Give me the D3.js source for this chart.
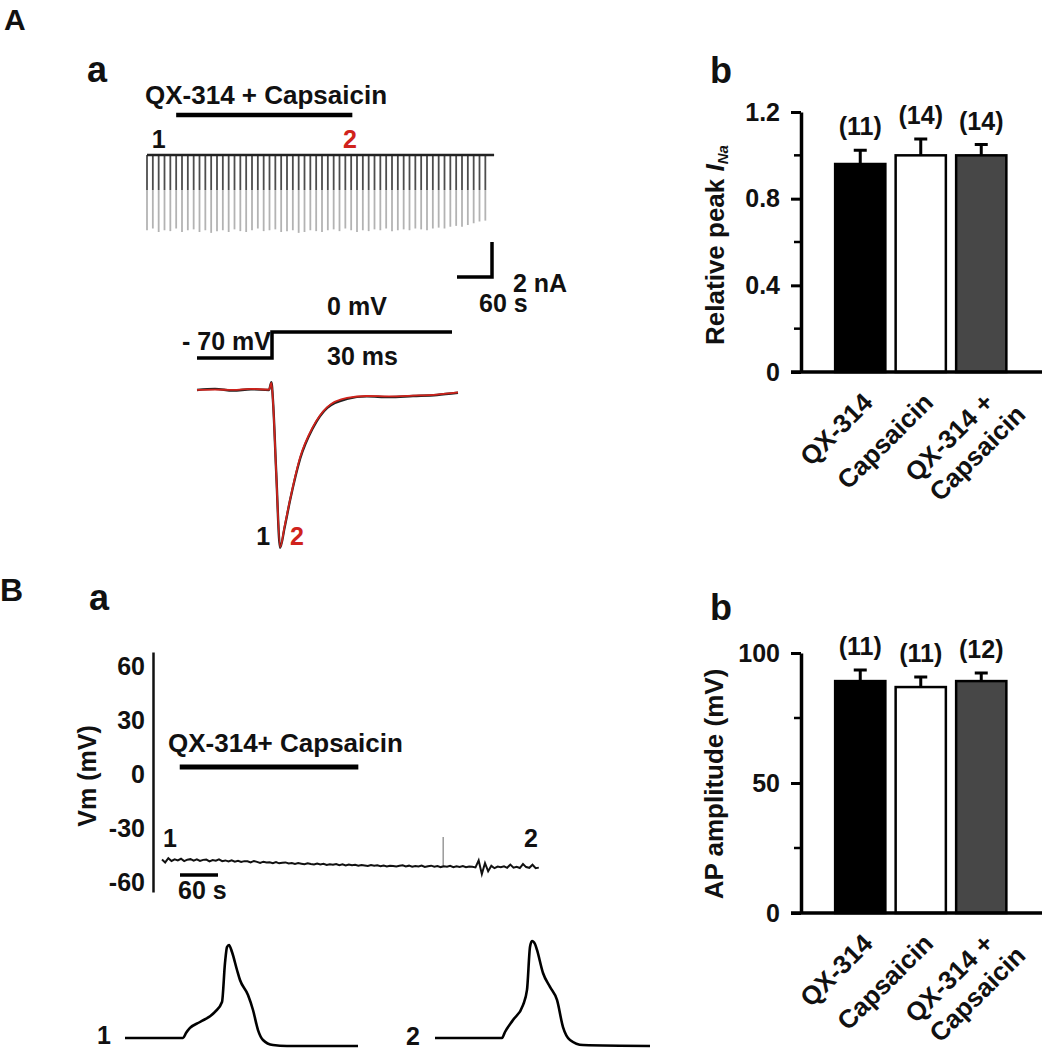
<!DOCTYPE html>
<html><head><meta charset="utf-8">
<script src="https://cdn.jsdelivr.net/npm/d3@7"></script>
<style>
body{margin:0;background:#fff}
svg text{font-family:"Liberation Sans",Arial,sans-serif;font-weight:bold}
</style></head><body>
<svg id="fig" width="1042" height="1050"></svg>
<script>
// ================= DATA =================
// Panel A-a : repeated Na-current sweeps (time s, peak nA)
const sweepTime = [0,10,20,30,40,50,60,70,80,90,100,110,120,130,140,150,160,170,180,190,200,210,220,230,240,250,260,270,280,290,300,310,320,330,340,350,360,370,380,390,400,410,420,430,440,450,460,470,480,490,500,510,520,530,540,550,560,570,580];
const sweepPeak = [-4.3,-4.2,-4.4,-4.3,-4.35,-4.2,-4.4,-4.3,-4.25,-4.4,
  -4.3,-4.45,-4.35,-4.3,-4.4,-4.25,-4.35,-4.4,-4.3,-4.2,
  -4.35,-4.3,-4.25,-4.4,-4.35,-4.3,-4.45,-4.4,-4.3,-4.35,
  -4.4,-4.3,-4.25,-4.35,-4.2,-4.3,-4.4,-4.3,-4.35,-4.25,
  -4.3,-4.2,-4.35,-4.3,-4.25,-4.3,-4.2,-4.25,-4.3,-4.2,
  -4.15,-4.2,-4.1,-4.05,-4.1,-4.0,-3.9,-3.8,-3.75];
const sweepMarks = [{label:"1", t:20, color:"#111"}, {label:"2", t:348, color:"#d0231c"}];
const drugA = [50, 352];           // s
const drugLabelA = "QX-314 + Capsaicin";

// voltage protocol (ms, mV)
const protoT = [0, 12.5, 12.5, 42.5];
const protoV = [-70, -70, 0, 0];

// Na current traces (ms, nA)
const inaT  = [0,3,6,9,12,12.4,12.7,13.2,13.85,14.6,15.5,17.2,19.3,21.7,25,28.3,32,36,40,43.5];
const ina1  = [0.0,0.03,-0.02,0.02,0.0,0.22,-0.4,-2.3,-4.42,-3.85,-3.1,-1.92,-1.07,-0.5,-0.25,-0.18,-0.2,-0.17,-0.14,-0.08];
const ina2  = [0.0,0.01,0.0,0.03,0.01,0.2,-0.42,-2.32,-4.4,-3.82,-3.08,-1.88,-1.04,-0.48,-0.22,-0.17,-0.18,-0.16,-0.13,-0.07];

// Panel B-a : membrane potential (s, mV)
const vmTime = [0,5,10,15,20,25,30,35,40,45,50,55,60,65,70,75,80,85,90,95,
  100,105,110,115,120,125,130,135,140,145,150,155,160,165,170,175,180,185,190,195,
  200,205,210,215,220,225,230,235,240,245,250,255,260,265,270,275,280,285,290,295,
  300,305,310,315,320,325,330,335,340,345,350,355,360,365,370,375,380,385,390,395,
  400,405,410,415,420,425,430,435,440,445,450,455,460,465,470,475,480,485,490,495,
  500,505,510,515,520,525,530,535,540,545,550,555,560,565,570,575,580,585,590,595];
const vmValue = [-47.0,-48.6,-46.3,-47.8,-46.9,-47.5,-46.6,-47.9,-47.1,-46.8,
  -47.6,-46.9,-47.8,-47.2,-47.0,-48.0,-47.3,-47.7,-46.9,-47.9,
  -47.5,-48.1,-47.4,-48.2,-47.7,-48.4,-47.9,-48.0,-48.6,-47.8,
  -48.3,-48.9,-48.2,-48.7,-48.5,-49.0,-48.4,-49.1,-48.8,-48.6,
  -49.2,-48.9,-49.4,-49.0,-49.3,-49.6,-49.1,-49.5,-49.8,-49.2,
  -49.7,-49.4,-50.0,-49.6,-49.9,-49.5,-50.1,-49.7,-50.3,-49.8,
  -50.2,-49.9,-50.4,-50.0,-50.3,-50.6,-50.1,-50.5,-50.2,-50.7,
  -50.3,-50.8,-50.4,-50.6,-50.9,-50.5,-50.2,-50.8,-50.4,-51.0,
  -50.6,-50.9,-50.3,-51.1,-50.7,-50.4,-51.0,-50.6,-51.2,-50.8,
  -51.0,-50.5,-51.2,-50.7,-51.1,-50.6,-51.3,-50.9,-51.0,-51.4,
  -47.5,-55.0,-49.0,-53.5,-50.5,-51.8,-50.9,-51.3,-50.8,-51.6,
  -49.8,-51.5,-51.0,-51.7,-49.5,-51.2,-51.6,-49.9,-51.8,-51.5];
const vmSpikeT = [444];
const vmSpikeV = [-34.5];
const vmTicks = [-60, -30, 0, 30, 60];
const drugB = [28, 310];
const drugLabelB = "QX-314+ Capsaicin";

// Action potentials (ms, mV)
const ap1T = [0,29,30.5,32.5,37.5,45,48.5,50,51,52,53.5,56,57.5,61.5,64,66.5,69,74,81,116.5];
const ap1V = [-50,-50,-45.2,-40.3,-34.5,-24.8,-15.2,22.6,38,40,33.2,15.8,6.1,-8.4,-22.9,-42.3,-51.9,-56.8,-57.7,-57.7];
const ap2T = [0,33.5,35,39,44,46,47.5,48.5,50,51,54,57.5,61,64,67.5,74,107.5];
const ap2V = [-50,-50,-44.2,-32.6,-18.1,-3.5,38.1,43.9,41,35.2,12.9,-0.6,-13.2,-39.4,-51.9,-56.8,-57.7];

// Bar charts
const barCategories = ["QX-314", "Capsaicin", "QX-314 +\nCapsaicin"];
const barFill = ["#000000", "#ffffff", "#474747"];
const peakINa = [0.96, 1.00, 1.00];
const peakINaSEM = [0.063, 0.075, 0.05];
const peakINaN = ["(11)", "(14)", "(14)"];
const peakTicks = [0, 0.4, 0.8, 1.2];
const peakMinor = [0.2, 0.6, 1.0];
const apAmp = [89.2, 86.9, 89.2];
const apAmpSEM = [4.3, 3.9, 3.1];
const apAmpN = ["(11)", "(11)", "(12)"];
const apTicks = [0, 50, 100];
const apMinor = [25, 75];

// ================= DRAW =================
const svg = d3.select("#fig");
const RED = "#d0231c";

function txt(x, y, s, size, anchor, color){
  return svg.append("text").attr("x", x).attr("y", y).attr("font-size", size)
    .attr("text-anchor", anchor || "start").attr("fill", color || "#111").text(s);
}

// panel letters
txt(4, 30, "A", 30);
txt(87, 82, "a", 36);
txt(710, 83, "b", 36);
txt(0, 601, "B", 32);
txt(89, 610, "a", 36);
txt(710, 620, "b", 36);

// ---------- A-a sweeps ----------
const xA = d3.scaleLinear().domain([0, 600]).range([147, 497]);
const yA = d3.scaleLinear().domain([-4.5, 0]).range([233.75, 155]);
const defs = svg.append("defs");
const grad = defs.append("linearGradient").attr("id", "sweepGrad")
  .attr("gradientUnits", "userSpaceOnUse")
  .attr("x1", 0).attr("x2", 0).attr("y1", yA(0)).attr("y2", yA(-4.4));
[[0,"#4d4d4d"],[0.46,"#4d4d4d"],[0.46,"#b3b3b3"],[1,"#b3b3b3"]].forEach(s =>
  grad.append("stop").attr("offset", s[0]).attr("stop-color", s[1]));

svg.append("g").selectAll("line").data(sweepTime).join("line")
  .attr("x1", d => xA(d)).attr("x2", d => xA(d))
  .attr("y1", yA(0)).attr("y2", (d, i) => yA(sweepPeak[i]))
  .attr("stroke", "url(#sweepGrad)").attr("stroke-width", 1.8);
svg.append("line").attr("x1", xA(0)).attr("x2", xA(595)).attr("y1", yA(0)).attr("y2", yA(0))
  .attr("stroke", "#222").attr("stroke-width", 2.4);
sweepMarks.forEach(m => txt(xA(m.t), 148, m.label, 25, "middle", m.color));
svg.append("line").attr("x1", xA(drugA[0])).attr("x2", xA(drugA[1])).attr("y1", 115).attr("y2", 115)
  .attr("stroke", "#000").attr("stroke-width", 4.5);
txt(145, 104, drugLabelA, 26);

// scale bar (60 s horizontal, 2 nA vertical)
const sbX = 492, sbY = 277;
const sbW = Math.abs(xA(60) - xA(0)), sbH = Math.abs(yA(-2) - yA(0));
svg.append("path")
  .attr("d", `M${sbX - sbW},${sbY}H${sbX}V${sbY - sbH}`)
  .attr("fill", "none").attr("stroke", "#000").attr("stroke-width", 3.5);
txt(513, 292, "2 nA", 25);
txt(479, 312, "60 s", 25);

// protocol
const xP = d3.scaleLinear().domain([0, 45]).range([197, 467]);
const vP = d3.scaleLinear().domain([-70, 0]).range([358, 332]);
svg.append("path").attr("d", d3.line().x((d, i) => xP(protoT[i])).y(d => vP(d))(protoV))
  .attr("fill", "none").attr("stroke", "#000").attr("stroke-width", 3.5);
txt(357, 315, "0 mV", 25, "middle");
txt(271, 350, "- 70 mV", 25, "end");
txt(327, 365, "30 ms", 25);

// Na current
const yI = d3.scaleLinear().domain([-4.5, 0.5]).range([550.6, 372.1]);
const lineI = arr => d3.line().x((d, i) => xP(inaT[i])).y(d => yI(d)).curve(d3.curveMonotoneX)(arr);
svg.append("path").attr("d", lineI(ina1)).attr("fill", "none").attr("stroke", "#222").attr("stroke-width", 2.4);
svg.append("path").attr("d", lineI(ina2)).attr("fill", "none").attr("stroke", RED).attr("stroke-width", 1.8);
txt(xP(13.85) - 10, 545, "1", 25, "end", "#111");
txt(xP(13.85) + 10, 545, "2", 25, "start", RED);

// ---------- B-a ----------
const xV = d3.scaleLinear().domain([0, 600]).range([162, 542]);
const yV = d3.scaleLinear().domain([-65, 68]).range([892, 652]);
const vAxis = svg.append("g").attr("transform", "translate(153,0)")
  .call(d3.axisLeft(yV).tickValues(vmTicks).tickSize(0).tickSizeOuter(0).tickPadding(8).tickFormat(d => String(d)));
vAxis.attr("font-size", 25).attr("font-family", null);
vAxis.selectAll("text").attr("fill", "#111");
vAxis.select(".domain").attr("stroke", "#111").attr("stroke-width", 2.5);
svg.append("text").attr("transform", "translate(96,776) rotate(-90)").attr("font-size", 25)
  .attr("text-anchor", "middle").attr("fill", "#111").text("Vm (mV)");
svg.append("line").attr("x1", xV(drugB[0])).attr("x2", xV(drugB[1])).attr("y1", 767).attr("y2", 767)
  .attr("stroke", "#000").attr("stroke-width", 5);
txt(168, 752, drugLabelB, 26);
svg.append("g").selectAll("line").data(vmSpikeT).join("line")
  .attr("x1", d => xV(d)).attr("x2", d => xV(d))
  .attr("y1", yV(-51)).attr("y2", (d, i) => yV(vmSpikeV[i]))
  .attr("stroke", "#999").attr("stroke-width", 1.5);
svg.append("path").attr("d", d3.line().x((d, i) => xV(vmTime[i])).y(d => yV(d))(vmValue))
  .attr("fill", "none").attr("stroke", "#111").attr("stroke-width", 2);
txt(163, 847, "1", 25);
txt(538, 847, "2", 25, "end");
svg.append("line").attr("x1", 180).attr("x2", 180 + Math.abs(xV(60) - xV(0))).attr("y1", 875).attr("y2", 875)
  .attr("stroke", "#000").attr("stroke-width", 3.5);
txt(178, 899, "60 s", 25);

// action potentials
const yAP = d3.scaleLinear().domain([-50, 40]).range([1038, 945]);
const xAP1 = d3.scaleLinear().domain([0, 120]).range([125, 365]);
const xAP2 = d3.scaleLinear().domain([0, 120]).range([435, 675]);
svg.append("path").attr("d", d3.line().x((d, i) => xAP1(ap1T[i])).y(d => yAP(d)).curve(d3.curveMonotoneX)(ap1V))
  .attr("fill", "none").attr("stroke", "#000").attr("stroke-width", 2.6);
svg.append("path").attr("d", d3.line().x((d, i) => xAP2(ap2T[i])).y(d => yAP(d)).curve(d3.curveMonotoneX)(ap2V))
  .attr("fill", "none").attr("stroke", "#000").attr("stroke-width", 2.6);
txt(97, 1044, "1", 25);
txt(406, 1045, "2", 25);

// ---------- Bar charts ----------
function barChart(cfg){
  const g = svg.append("g");
  const axisX = 801;
  const x = d3.scaleBand().domain(barCategories).range([830, 1011.5]).paddingInner(0.17).paddingOuter(0.085);
  const y = d3.scaleLinear().domain(cfg.domain).range([cfg.bottom, cfg.top]);
  // minor ticks
  g.selectAll("line.minor").data(cfg.minor).join("line").attr("class", "minor")
    .attr("x1", axisX - 7).attr("x2", axisX).attr("y1", d => y(d)).attr("y2", d => y(d))
    .attr("stroke", "#000").attr("stroke-width", 2.5);
  const a = g.append("g").attr("transform", `translate(${axisX},0)`)
    .call(d3.axisLeft(y).tickValues(cfg.ticks).tickSize(10).tickSizeOuter(0).tickPadding(11).tickFormat(cfg.fmt));
  a.attr("font-size", 25).attr("font-family", null);
  a.selectAll("text").attr("fill", "#111");
  a.select(".domain").attr("stroke", "#000").attr("stroke-width", 3.5);
  a.selectAll(".tick line").attr("stroke", "#000").attr("stroke-width", 3);
  // bars
  g.selectAll("rect").data(barCategories).join("rect")
    .attr("x", d => x(d)).attr("width", x.bandwidth())
    .attr("y", (d, i) => y(cfg.values[i])).attr("height", (d, i) => y(0) - y(cfg.values[i]))
    .attr("fill", (d, i) => barFill[i]).attr("stroke", "#000").attr("stroke-width", 2.5);
  // error bars, n labels, category labels
  barCategories.forEach((c, i) => {
    const cx = x(c) + x.bandwidth() / 2;
    const top = y(cfg.values[i] + cfg.sem[i]);
    g.append("path").attr("d", `M${cx},${y(cfg.values[i])}V${top}M${cx - 6.5},${top}H${cx + 6.5}`)
      .attr("stroke", "#000").attr("stroke-width", 3).attr("fill", "none");
    g.append("text").attr("x", cx).attr("y", top - 15).attr("text-anchor", "middle")
      .attr("font-size", 25).attr("fill", "#111").text(cfg.n[i]);
    const t = g.append("text").attr("font-size", 26).attr("fill", "#111").attr("text-anchor", "end")
      .attr("transform", `translate(${cx + 14},${y(0) + 32}) rotate(-45)`);
    c.split("\n").forEach((line, k) => {
      t.append("tspan").attr("x", k * 14).attr("dy", k === 0 ? 0 : 31).text(line);
    });
  });
  // x axis line
  g.append("line").attr("x1", axisX - 10).attr("x2", 1042).attr("y1", y(0)).attr("y2", y(0))
    .attr("stroke", "#000").attr("stroke-width", 3.5);
  // y title
  const tt = g.append("text").attr("transform", `translate(${cfg.titleX},${cfg.titleY}) rotate(-90)`)
    .attr("text-anchor", "middle").attr("font-size", 26).attr("fill", "#111");
  cfg.title(tt);
}

barChart({
  domain: [0, 1.2], bottom: 372, top: 112,
  ticks: peakTicks, minor: peakMinor, fmt: d => d === 0 ? "0" : d.toFixed(1),
  values: peakINa, sem: peakINaSEM, n: peakINaN,
  titleX: 724, titleY: 245,
  title: t => {
    t.append("tspan").text("Relative peak ");
    t.append("tspan").attr("font-style", "italic").text("I");
    t.append("tspan").attr("font-style", "italic").attr("font-size", 15).attr("dy", 4).text("Na");
  }
});
barChart({
  domain: [0, 100], bottom: 913, top: 653,
  ticks: apTicks, minor: apMinor, fmt: d => String(d),
  values: apAmp, sem: apAmpSEM, n: apAmpN,
  titleX: 723, titleY: 784,
  title: t => t.text("AP amplitude (mV)")
});
</script></body></html>
